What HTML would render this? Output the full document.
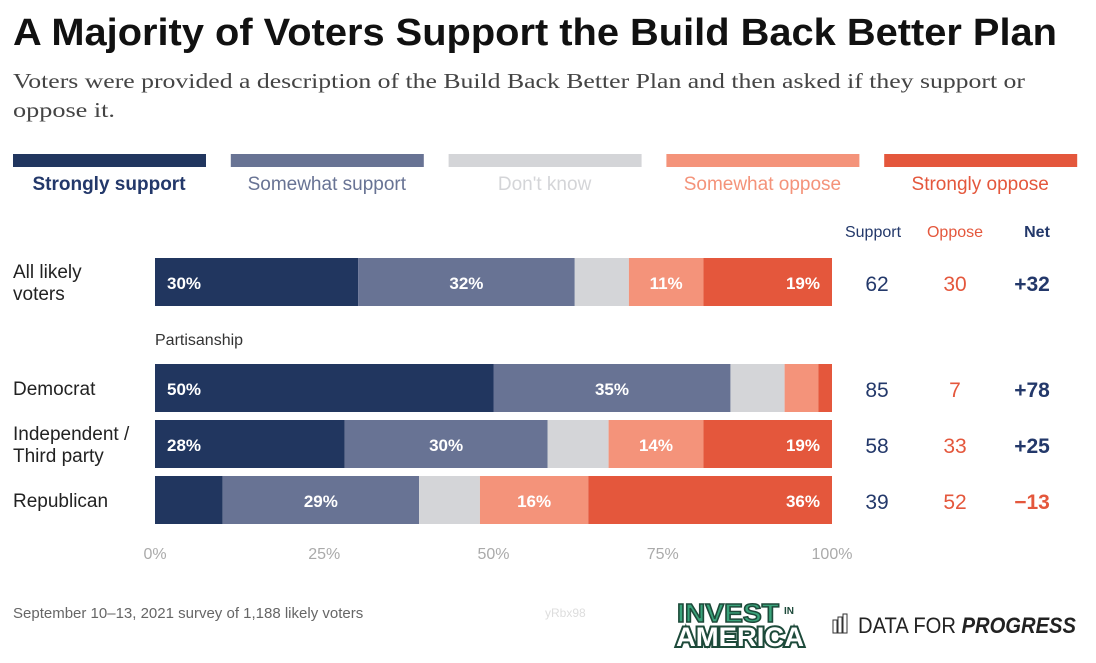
<!DOCTYPE html>
<html><head><meta charset="utf-8"><style>
body{margin:0;background:#fff;width:1096px;height:658px;overflow:hidden;font-family:"Liberation Sans",sans-serif}
</style></head><body>
<svg width="1096" height="658" font-family="Liberation Sans, sans-serif">
<text x="13" y="45" font-size="38" font-weight="bold" fill="#111" textLength="1044" lengthAdjust="spacingAndGlyphs">A Majority of Voters Support the Build Back Better Plan</text>
<text x="13" y="88" font-size="21" fill="#444" font-family="Liberation Serif, serif" textLength="1012" lengthAdjust="spacingAndGlyphs">Voters were provided a description of the Build Back Better Plan and then asked if they support or</text>
<text x="13" y="117" font-size="21" fill="#444" font-family="Liberation Serif, serif" textLength="102" lengthAdjust="spacingAndGlyphs">oppose it.</text>
<g id="legend"></g>
<g id="bars"></g>
<text x="155" y="345" font-size="16" fill="#333">Partisanship</text>
<text x="873" y="237" font-size="16" fill="#23386a" text-anchor="middle">Support</text>
<text x="955" y="237" font-size="16" fill="#e4573c" text-anchor="middle">Oppose</text>
<text x="1037" y="237" font-size="16" font-weight="bold" fill="#23386a" text-anchor="middle">Net</text>
<g id="axis"></g>
<text x="13" y="618" font-size="15" fill="#666">September 10–13, 2021 survey of 1,188 likely voters</text>
<text x="545" y="617" font-size="12" fill="#ddd">yRbx98</text>
<g>
<text x="677" y="622" font-size="26" font-weight="bold" fill="#3aa37a" stroke="#1d4a3a" stroke-width="1.5" textLength="102" lengthAdjust="spacingAndGlyphs">INVEST</text>
<text x="784" y="614" font-size="10" font-weight="bold" fill="#1d4a3a">IN</text>
<text x="676" y="646" font-size="27" font-weight="bold" fill="#fff" stroke="#1d4a3a" stroke-width="4" paint-order="stroke" textLength="128" lengthAdjust="spacingAndGlyphs">AMERICA</text>
</g>
<g>
<rect x="833" y="620" width="4" height="13" fill="none" stroke="#333" stroke-width="1"/>
<rect x="838" y="617" width="4" height="16" fill="none" stroke="#333" stroke-width="1"/>
<rect x="843" y="614" width="4" height="19" fill="none" stroke="#333" stroke-width="1"/>
<text x="858" y="633" font-size="22" fill="#222" textLength="218" lengthAdjust="spacingAndGlyphs">DATA FOR <tspan font-weight="bold" font-style="italic">PROGRESS</tspan></text>
</g>
</svg>
<script>
const categories=["All likely voters","Democrat","Independent / Third party","Republican"];
const strongSupport=[30,50,28,10];
const somewhatSupport=[32,35,30,29];
const dontKnow=[8,8,9,9];
const somewhatOppose=[11,5,14,16];
const strongOppose=[19,2,19,36];
const supportTotals=[62,85,58,39];
const opposeTotals=[30,7,33,52];
const netLabels=["+32","+78","+25","−13"];
const ticks=[0,25,50,75,100];
const seriesNames=["Strongly support","Somewhat support","Don't know","Somewhat oppose","Strongly oppose"];
const colors=["#21365f","#687394","#d4d5d8","#f4937a","#e4573c"];
const legendText=["#23386a","#687394","#d4d5d8","#f4937a","#e4573c"];
const NS="http://www.w3.org/2000/svg";
function mk(t,a,p){const e=document.createElementNS(NS,t);for(const k in a)e.setAttribute(k,a[k]);p.appendChild(e);return e;}
const x0=155,x1=832;const xs=v=>x0+(x1-x0)*v/100;
const rowY=[258,364,420,476],barH=48;
const lg=document.getElementById('legend');
seriesNames.forEach((n,i)=>{const lx=13+i*217.8;
const r=mk('rect',{x:lx,y:154,width:193,height:13,fill:colors[i]},lg);


const t=mk('text',{x:lx+96,y:190,'font-size':19,'font-weight':i==0?'bold':'normal','text-anchor':'middle',fill:legendText[i]},lg);t.textContent=n;

});
const bg=document.getElementById('bars');
const series=[strongSupport,somewhatSupport,dontKnow,somewhatOppose,strongOppose];
categories.forEach((c,r)=>{const y=rowY[r];let acc=0;
series.forEach((s,i)=>{const v=s[r];const b=mk('rect',{x:xs(acc),y:y,width:xs(acc+v)-xs(acc),height:barH,fill:colors[i]},bg);


if(i!=2&&v>=11){const lbl=mk('text',{'font-size':17,'font-weight':'bold',fill:'#fff',y:y+31,'text-anchor':'middle',x:(xs(acc)+xs(acc+v))/2},bg);
if(i==0){lbl.setAttribute('text-anchor','start');lbl.setAttribute('x',xs(acc)+12);}
if(i==4){lbl.setAttribute('text-anchor','end');lbl.setAttribute('x',xs(acc+v)-12);}
lbl.textContent=v+'%';

}
acc+=v;});
const parts=c=="All likely voters"?["All likely","voters"]:c.startsWith("Indep")?["Independent /","Third party"]:[c];
parts.forEach((p,k)=>{const t=mk('text',{x:13,y:y+31+(parts.length>1?(k-0.5)*22:0),'font-size':19,fill:'#222'},bg);t.textContent=p;

});
const a=mk('text',{x:877,y:y+33,'font-size':21,fill:'#23386a','text-anchor':'middle'},bg);a.textContent=supportTotals[r];


const o=mk('text',{x:955,y:y+33,'font-size':21,fill:'#e4573c','text-anchor':'middle'},bg);o.textContent=opposeTotals[r];


const n=mk('text',{x:1032,y:y+33,'font-size':21,'font-weight':'bold',fill:netLabels[r].startsWith('+')?'#23386a':'#e4573c','text-anchor':'middle'},bg);n.textContent=netLabels[r];

});
const ax=document.getElementById('axis');
ticks.forEach(t=>{const e=mk('text',{x:xs(t),y:559,'font-size':16,fill:'#aaa','text-anchor':'middle'},ax);e.textContent=t+'%';

});
</script>
</body></html>
